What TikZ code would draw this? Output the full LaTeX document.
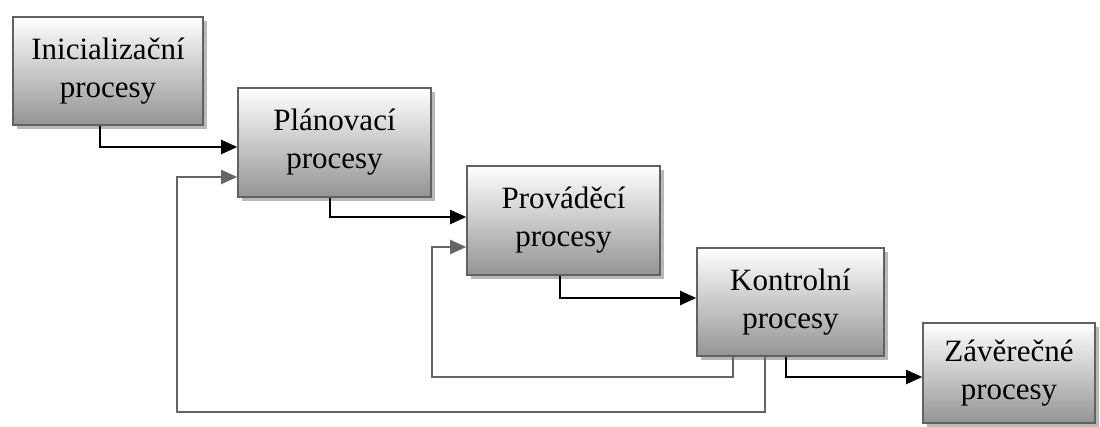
\documentclass[tikz,border=0pt]{standalone}
\usepackage{fontspec}
\setmainfont{Liberation Serif}
\usetikzlibrary{arrows.meta,shadows}
\begin{document}
\begin{tikzpicture}[x=1pt,y=-1pt,
  box/.style={rectangle, draw=black!62, line width=1.6pt, top color=white, bottom color=black!42,
    align=center, font=\fontsize{31}{38}\selectfont, inner sep=0pt,
    drop shadow={shadow xshift=3.5pt, shadow yshift=-3.5pt, fill=black!28, opacity=1}},
  blk/.style={draw=black, line width=2pt, -{Triangle[length=16pt,width=14pt]}},
  gry/.style={draw=black!60, line width=2pt, -{Triangle[length=16pt,width=14pt]}}]
\useasboundingbox (0,0) rectangle (1100,426);
\node[box, minimum width=190pt, minimum height=108pt] (b1) at (108,71) {Inicializační\\procesy};
\node[box, minimum width=193pt, minimum height=109pt] (b2) at (334.5,142.5) {Plánovací\\procesy};
\node[box, minimum width=193pt, minimum height=109pt] (b3) at (563.5,220.5) {Prováděcí\\procesy};
\node[box, minimum width=187pt, minimum height=108pt] (b4) at (790.5,302) {Kontrolní\\procesy};
\node[box, minimum width=172pt, minimum height=100pt] (b5) at (1009,373) {Závěrečné\\procesy};
\coordinate (c1) at (432,377);
\coordinate (c2) at (177,412);
\draw[blk] (b1.south -| 100,0) |- (b2.west |- 0,147);
\draw[blk] (b2.south -| 330,0) |- (b3.west |- 0,217);
\draw[blk] (b3.south -| 560,0) |- (b4.west |- 0,298);
\draw[blk] (b4.south -| 786,0) |- (b5.west |- 0,377);
\draw[gry] (b4.south -| 733,0) |- (c1) |- (b3.west |- 0,247);
\draw[gry] (b4.south -| 765,0) |- (c2) |- (b2.west |- 0,177);
\end{tikzpicture}
\end{document}
